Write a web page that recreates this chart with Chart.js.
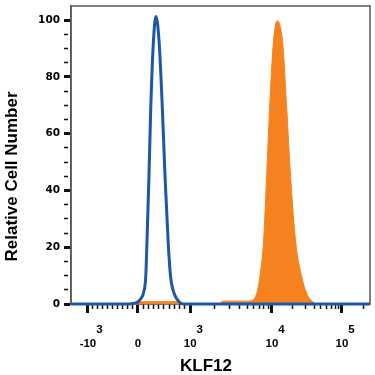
<!DOCTYPE html>
<html>
<head>
<meta charset="utf-8">
<script src="https://cdn.jsdelivr.net/npm/chart.js@4.4.1/dist/chart.umd.min.js"></script>
<style>
  html, body { margin: 0; padding: 0; background: #fff; }
</style>
</head>
<body>
<canvas id="klfChart" width="375" height="375"></canvas>
<script>
// x values are display channels (0-1024) of the biexponential KLF12 axis
const isotypeX = [0, 202, 212, 230, 240, 248, 256, 260, 267, 273, 282, 291, 302, 313, 322, 333, 341, 353, 370, 380, 390, 1024];
const isotypeY = [0, 0, 0.2, 0.8, 2, 3.8, 9.7, 21.4, 45, 68.5, 92, 101.3, 92, 68.5, 45, 21.4, 9.7, 3.8, 0.8, 0.1, 0, 0];

const klfX = [0, 232, 236, 372, 378, 513, 517, 606, 619, 636, 647, 659, 670, 680, 693, 706, 725, 739, 752, 770, 790, 807, 828, 840, 1024];
const klfY = [0, 0, 0.8, 0.8, 0, 0, 1.0, 1.0, 1.2, 3.8, 9.7, 21.4, 45, 68.5, 92, 99.8, 92, 68.5, 45, 21.4, 9.7, 3.8, 0.8, 0, 0];

// major ticks of the x axis: -10^3, 0, 10^3, 10^4, 10^5
const xMajorTicks = [58, 229, 408, 688, 928];
const xTickBase = ["-10", "0", "10", "10", "10"];
const xTickExp = ["3", "", "3", "4", "5"];

const yMajorTicks = [0, 20, 40, 60, 80, 100];
const yMinorStep = 5;

const BLUE = "#1d58a6";
const ORANGE = "#f5821f";

// minor ticks: linear hundreds around zero, log steps in the decades
function buildMinorTicks() {
  const out = [];
  for (let k = 1; k < 10; k++) {
    out.push(xMajorTicks[0] + (k * (xMajorTicks[1] - xMajorTicks[0])) / 10);
    out.push(xMajorTicks[1] + (k * (xMajorTicks[2] - xMajorTicks[1])) / 10);
  }
  const decadeWidth = [xMajorTicks[3] - xMajorTicks[2], xMajorTicks[4] - xMajorTicks[3], xMajorTicks[4] - xMajorTicks[3]];
  const decadeStart = [xMajorTicks[2], xMajorTicks[3], xMajorTicks[4]];
  for (let d = 0; d < 3; d++) {
    for (let m = 2; m < 10; m++) {
      const v = decadeStart[d] + decadeWidth[d] * Math.log10(m);
      if (v < 1024) out.push(v);
    }
  }
  return out;
}

const xTicks = xMajorTicks.map((v) => ({ value: v, major: true }))
  .concat(buildMinorTicks().map((v) => ({ value: v, major: false })))
  .sort((a, b) => a.value - b.value);

const yTicks = [];
for (let v = 0; v <= 100; v += yMinorStep) {
  yTicks.push({ value: v, major: yMajorTicks.includes(v) });
}

const toPoints = (xs, ys) => xs.map((x, i) => ({ x: x, y: ys[i] }));

// frame round the plot
const framePlugin = {
  id: "frame",
  beforeDatasetsDraw(chart) {
    const a = chart.chartArea;
    const ctx = chart.ctx;
    ctx.save();
    ctx.strokeStyle = "#555";
    ctx.lineWidth = 1.5;
    ctx.strokeRect(a.left, a.top, a.right - a.left, a.bottom - a.top);
    ctx.restore();
  },
};

// x tick labels with superscripts, and the axis titles
const labelPlugin = {
  id: "labels",
  afterDraw(chart) {
    const ctx = chart.ctx;
    const xs = chart.scales.x;
    ctx.save();
    ctx.fillStyle = "#000";
    ctx.font = "bold 11.5px 'Liberation Sans'";
    ctx.textBaseline = "alphabetic";
    xMajorTicks.forEach((v, i) => {
      const px = xs.getPixelForValue(v);
      ctx.textAlign = "center";
      ctx.fillText(xTickBase[i], px, 347);
      if (xTickExp[i]) {
        const w = ctx.measureText(xTickBase[i]).width;
        ctx.textAlign = "left";
        ctx.fillText(xTickExp[i], px + w / 2, 332.5);
      }
    });

    ctx.font = "bold 17px 'Liberation Sans'";
    ctx.textAlign = "center";
    ctx.fillText("KLF12", 206, 371);

    ctx.translate(16.5, 176.5);
    ctx.rotate(-Math.PI / 2);
    ctx.fillText("Relative Cell Number", 0, 0);
    ctx.restore();
  },
};

const tickWidth = (c) => (c.tick && c.tick.major ? 3 : 1.5);

new Chart(document.getElementById("klfChart"), {
  type: "line",
  data: {
    datasets: [
      {
        label: "Isotype",
        data: toPoints(isotypeX, isotypeY),
        borderColor: BLUE,
        borderWidth: 3,
        fill: false,
        pointRadius: 0,
        cubicInterpolationMode: "monotone",
        clip: false,
      },
      {
        label: "KLF12",
        data: toPoints(klfX, klfY),
        borderColor: ORANGE,
        backgroundColor: ORANGE,
        borderWidth: 1,
        fill: "origin",
        pointRadius: 0,
        cubicInterpolationMode: "monotone",
        clip: false,
      },
    ],
  },
  options: {
    responsive: false,
    animation: false,
    devicePixelRatio: 1,
    layout: { padding: { left: 0, top: 6, right: 5, bottom: 0 } },
    plugins: {
      legend: { display: false },
      tooltip: { enabled: false },
    },
    scales: {
      x: {
        type: "linear",
        min: 0,
        max: 1024,
        border: { display: false },
        grid: {
          drawOnChartArea: false,
          tickLength: 9,
          tickWidth: tickWidth,
          tickColor: "#111",
          tickBorderDash: (c) => (c.tick && c.tick.major ? [] : [5, 40]),
        },
        ticks: { display: false },
        afterBuildTicks: (s) => {
          s.ticks = xTicks.map((t) => ({ value: t.value, major: t.major }));
        },
        afterFit: (s) => {
          s.height = 71;
          s.paddingLeft = 0;
          s.paddingRight = 0;
        },
      },
      y: {
        type: "linear",
        min: 0,
        max: 105,
        border: { display: true, color: "#555", width: 1.5 },
        grid: {
          drawOnChartArea: false,
          tickLength: 7,
          tickWidth: tickWidth,
          tickColor: "#111",
          tickBorderDash: (c) => (c.tick && c.tick.major ? [] : [4, 40]),
        },
        ticks: {
          autoSkip: false,
          padding: 4,
          color: "#000",
          font: { family: "'DejaVu Sans'", weight: "bold", size: 10.5 },
          callback: (v) => (yMajorTicks.includes(v) ? String(v) : ""),
        },
        afterBuildTicks: (s) => {
          s.ticks = yTicks.map((t) => ({ value: t.value, major: t.major }));
        },
        afterFit: (s) => {
          s.width = 71;
          s.paddingTop = 0;
          s.paddingBottom = 0;
        },
      },
    },
  },
  plugins: [framePlugin, labelPlugin],
});
</script>
</body>
</html>
